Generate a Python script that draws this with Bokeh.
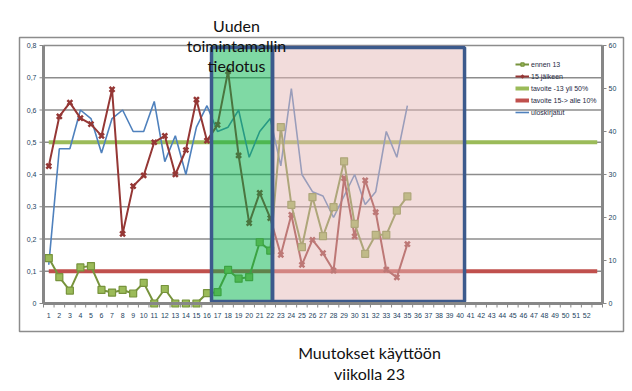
from bokeh.plotting import figure
from bokeh.models import (Range1d, ColumnDataSource, Legend, LegendItem)
from bokeh.embed import file_html
from bokeh.resources import INLINE
from bokeh.core.properties import value

# ---------------- data ----------------
weeks = list(range(1, 36))
ennen_13 = [0.141, 0.082, 0.040, 0.112, 0.116, 0.042, 0.034, 0.042, 0.031, 0.064,
            0.000, 0.045, 0.000, 0.000, 0.000, 0.032, 0.035, 0.104, 0.077, 0.082,
            0.190, 0.164, 0.547, 0.306, 0.175, 0.330, 0.209, 0.299, 0.441, 0.247,
            0.154, 0.213, 0.213, 0.288, 0.332]
jalkeen_15 = [0.426, 0.580, 0.623, 0.575, 0.556, 0.520, 0.664, 0.216, 0.364, 0.397,
              0.500, 0.520, 0.400, 0.476, 0.632, 0.505, 0.554, 0.720, 0.459, 0.249,
              0.343, 0.265, 0.151, 0.275, 0.120, 0.197, 0.156, 0.102, 0.389, 0.208,
              0.382, 0.283, 0.105, 0.081, 0.184]
uloskirjatut = [9, 36, 36, 45, 43, 35, 43, 45, 40, 40, 47, 33, 39, 30, 41, 46, 40, 41,
                45, 34, 40, 43, 32, 50, 30, 26, 25, 20, 25, 30, 23, 26, 40, 34, 46]
target_weeks = [1, 53]
tavoite_50 = [0.5, 0.5]
tavoite_10 = [0.1, 0.1]

x_ticks = list(range(1, 53))
x_tick_labels = [str(w) for w in x_ticks]
left_ticks = [0, 0.1, 0.2, 0.3, 0.4, 0.5, 0.6, 0.7, 0.8]
left_tick_labels = ["0", "0,1", "0,2", "0,3", "0,4", "0,5", "0,6", "0,7", "0,8"]
right_ticks = [0, 10, 20, 30, 40, 50, 60]
right_tick_labels = ["0", "10", "20", "30", "40", "50", "60"]

legend_labels = ["ennen 13", "15 jälkeen", "tavoite -13 yli 50%",
                 "tavoite 15-> alle 10%", "uloskirjatut"]
title_lines = ["Uuden", "toimintamallin", "tiedotus"]
note_lines = ["Muutokset käyttöön", "viikolla 23"]

# ---------------- geometry (pixels) ----------------
W, H = 632, 391
PL, PR, PT, PB = 43, 602, 45, 303          # plot area edges on canvas
X0, X1 = 0.5, 53.5                         # category axis span
Y0, Y1 = 0.0, 0.8                          # left axis span
R0, R1 = 0.0, 60.0                         # right axis span
XS = (PR - PL) / (X1 - X0)                 # px per category
YS = (PB - PT) / (Y1 - Y0)                 # px per left unit
RS = (PB - PT) / (R1 - R0)                 # px per right unit

def px_x(px):   # canvas pixel -> x data
    return X0 + (px - PL) / XS

def px_y(py):   # canvas pixel -> left-axis data
    return Y0 + (PB - py) / YS

p = figure(width=W, height=H, output_backend="svg", toolbar_location=None,
           x_range=Range1d(px_x(0), px_x(W)), y_range=Range1d(px_y(H), px_y(0)),
           min_border=0, x_axis_location=None, y_axis_location=None)
p.extra_y_ranges = {"right": Range1d(R0 - (H - PB) / RS, R0 + PB / RS)}
p.outline_line_color = None
p.xgrid.visible = False
p.ygrid.visible = False
p.background_fill_color = "white"
p.border_fill_color = "white"

axis_grey = "#878787"
grid_grey = "#8c8c8c"
label_col = "#243F60"
tick_font = value("Liberation Sans")

# gridlines
p.segment(x0=[X0] * 8, x1=[X1] * 8, y0=left_ticks[1:], y1=left_ticks[1:],
          line_color=grid_grey, line_width=1.3)

# ---------------- series ----------------
src = ColumnDataSource(dict(week=weeks, ennen=ennen_13, jalkeen=jalkeen_15,
                            ulos=uloskirjatut))
tsrc = ColumnDataSource(dict(week=target_weeks, t50=tavoite_50, t10=tavoite_10))

r_t50 = p.line("week", "t50", source=tsrc, color="#9BBB59", line_width=4)
r_t10 = p.line("week", "t10", source=tsrc, color="#C0504D", line_width=4)
r_ulos = p.line("week", "ulos", source=src, y_range_name="right",
                color="#4F81BD", line_width=1.6)
r_jl = p.line("week", "jalkeen", source=src, color="#953735", line_width=2)
r_js = p.scatter("week", "jalkeen", source=src, marker="x", size=7,
                 line_color="#953735", line_width=2.5)
r_el = p.line("week", "ennen", source=src, color="#77933C", line_width=2)
r_es = p.scatter("week", "ennen", source=src, marker="square", size=7,
                 fill_color="#9BBB59", line_color="#77933C", line_width=1.2)

# ---------------- overlay shapes (hand drawn in original) ----------------
g_left, g_right, pk_right = 16.43, 22.21, 40.42
p.quad(left=[g_left], right=[g_right], bottom=[Y0], top=[Y1],
       fill_color="#00B44A", fill_alpha=0.5, line_color=None)
p.quad(left=[g_right], right=[pk_right], bottom=[Y0], top=[Y1],
       fill_color="#E5B9B7", fill_alpha=0.5, line_color=None)
p.quad(left=[g_left, g_right], right=[g_right, pk_right],
       bottom=[px_y(301)] * 2, top=[px_y(47)] * 2,
       fill_color=None, line_color="#3C5A8C", line_width=3.5)

# ---------------- axes ----------------
# axis lines
p.segment(x0=[X0, X1, X0], x1=[X0, X1, X1], y0=[Y0, Y0, Y0], y1=[Y1, Y1, Y0],
          line_color=axis_grey, line_width=3)
# left ticks + labels
p.segment(x0=[px_x(PL - 4)] * len(left_ticks), x1=[X0] * len(left_ticks),
          y0=left_ticks, y1=left_ticks, line_color=axis_grey, line_width=1)
p.text(x=[px_x(PL - 7)] * len(left_ticks), y=left_ticks, text=left_tick_labels,
       text_align="right", text_baseline="middle", text_font=tick_font,
       text_font_size="7px", text_color=label_col)
# right ticks + labels
p.segment(x0=[X1] * len(right_ticks), x1=[px_x(PR + 4)] * len(right_ticks),
          y0=right_ticks, y1=right_ticks, y_range_name="right",
          line_color=axis_grey, line_width=1)
p.text(x=[px_x(PR + 6)] * len(right_ticks), y=right_ticks, text=right_tick_labels,
       y_range_name="right", text_align="left", text_baseline="middle",
       text_font=tick_font, text_font_size="7px", text_color=label_col)
# bottom ticks (between categories) + labels
bt = [w - 0.5 for w in range(1, 55)]
p.segment(x0=bt, x1=bt, y0=[Y0] * len(bt), y1=[px_y(PB + 4)] * len(bt),
          line_color=axis_grey, line_width=1)
p.text(x=x_ticks, y=[px_y(PB + 12)] * len(x_ticks), text=x_tick_labels,
       text_align="center", text_baseline="middle", text_font=tick_font,
       text_font_size="7px", text_color=label_col)

# outer chart frame
p.quad(left=[px_x(19)], right=[px_x(623)], top=[px_y(37)], bottom=[px_y(331)],
       fill_color=None, line_color="#8c8c8c", line_width=1.5)

# ---------------- texts ----------------
tf = value("Lato")
p.text(x=[px_x(236)] * 3, y=[px_y(25), px_y(44.5), px_y(65)], text=title_lines,
       text_align="center", text_baseline="alphabetic", text_font=tf,
       text_font_size="16px", text_color="#111111")
p.text(x=[px_x(369)] * 2, y=[px_y(352), px_y(373)], text=note_lines,
       text_align="center", text_baseline="alphabetic", text_font=tf,
       text_font_size="16px", text_color="#111111")

# ---------------- legend ----------------
legend = Legend(items=[
    LegendItem(label=legend_labels[0], renderers=[r_el, r_es]),
    LegendItem(label=legend_labels[1], renderers=[r_jl, r_js]),
    LegendItem(label=legend_labels[2], renderers=[r_t50]),
    LegendItem(label=legend_labels[3], renderers=[r_t10]),
    LegendItem(label=legend_labels[4], renderers=[r_ulos]),
], location=(515, 275))
legend.background_fill_alpha = 0
legend.border_line_color = None
legend.padding = 0
legend.margin = 0
legend.spacing = 4
legend.glyph_width = 14
legend.glyph_height = 8
legend.label_height = 8
legend.label_standoff = 2
legend.label_text_font = "Liberation Sans"
legend.label_text_font_size = "7px"
legend.label_text_color = "#1F2A44"
p.add_layout(legend)

open("out.html", "w").write(file_html(p, INLINE))
